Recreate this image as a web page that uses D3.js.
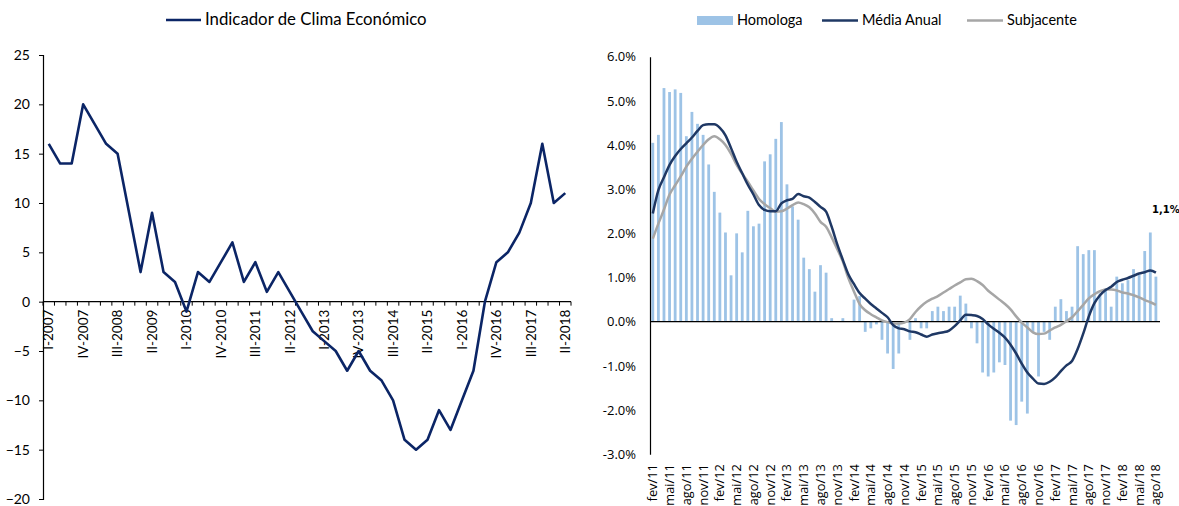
<!DOCTYPE html>
<html><head><meta charset="utf-8">
<script src="https://cdn.jsdelivr.net/npm/d3@7"></script>
<style>body{margin:0;background:#fff}svg{display:block}</style>
</head><body>
<svg id="c" width="1179" height="506"></svg>
<script>
// ---------- LEFT CHART DATA ----------
const quarters = [
 "I-2007","II-2007","III-2007","IV-2007","I-2008","II-2008","III-2008","IV-2008",
 "I-2009","II-2009","III-2009","IV-2009","I-2010","II-2010","III-2010","IV-2010",
 "I-2011","II-2011","III-2011","IV-2011","I-2012","II-2012","III-2012","IV-2012",
 "I-2013","II-2013","III-2013","IV-2013","I-2014","II-2014","III-2014","IV-2014",
 "I-2015","II-2015","III-2015","IV-2015","I-2016","II-2016","III-2016","IV-2016",
 "I-2017","II-2017","III-2017","IV-2017","I-2018","II-2018"];
const climate = [16,14,14,20,18,16,15,9,3,9,3,2,-1,3,2,4,6,2,4,1,3,1,-1,-3,-4,-5,-7,-5,-7,-8,-10,-14,-15,-14,-11,-13,-10,-7,0,4,5,7,10,16,10,11];
const leftYTicks = [25,20,15,10,5,0,-5,-10,-15,-20];
const leftXLabels = ["I-2007","IV-2007","III-2008","II-2009","I-2010","IV-2010","III-2011","II-2012","I-2013","IV-2013","III-2014","II-2015","I-2016","IV-2016","III-2017","II-2018"];
const leftSeriesName = "Indicador de Clima Económico";

// ---------- RIGHT CHART DATA ----------
const months = [
 "fev/11","mar/11","abr/11","mai/11","jun/11","jul/11","ago/11","set/11","out/11","nov/11","dez/11",
 "jan/12","fev/12","mar/12","abr/12","mai/12","jun/12","jul/12","ago/12","set/12","out/12","nov/12","dez/12",
 "jan/13","fev/13","mar/13","abr/13","mai/13","jun/13","jul/13","ago/13","set/13","out/13","nov/13","dez/13",
 "jan/14","fev/14","mar/14","abr/14","mai/14","jun/14","jul/14","ago/14","set/14","out/14","nov/14","dez/14",
 "jan/15","fev/15","mar/15","abr/15","mai/15","jun/15","jul/15","ago/15","set/15","out/15","nov/15","dez/15",
 "jan/16","fev/16","mar/16","abr/16","mai/16","jun/16","jul/16","ago/16","set/16","out/16","nov/16","dez/16",
 "jan/17","fev/17","mar/17","abr/17","mai/17","jun/17","jul/17","ago/17","set/17","out/17","nov/17","dez/17",
 "jan/18","fev/18","mar/18","abr/18","mai/18","jun/18","jul/18","ago/18"];
const homologa = [4.05,4.23,5.29,5.20,5.26,5.18,4.20,4.75,4.48,4.23,
 3.56,2.94,2.47,2.02,1.05,2.00,1.57,2.51,2.16,2.22,
 3.63,3.79,4.14,4.52,3.11,2.61,2.31,1.45,1.19,0.68,
 1.28,1.11,0.08,0.00,0.08,0.00,0.50,0.58,-0.23,-0.15,
 -0.06,-0.41,-0.72,-1.07,-0.72,0.00,-0.41,0.08,-0.15,-0.15,
 0.24,0.34,0.24,0.34,0.34,0.59,0.41,-0.15,-0.49,-1.15,
 -1.24,-1.15,-0.92,-0.98,-2.24,-2.34,-1.81,-2.08,-0.23,-1.24,
 -0.23,-0.41,0.34,0.51,0.24,0.34,1.71,1.53,1.62,1.62,
 0.64,0.75,0.34,1.02,0.87,0.94,1.19,1.06,1.60,2.02,
 1.02];
const mediaAnual = [2.45,2.98,3.27,3.55,3.75,3.91,4.04,4.17,4.32,4.45,
 4.47,4.47,4.39,4.22,3.93,3.62,3.36,3.10,2.88,2.64,
 2.53,2.50,2.50,2.68,2.75,2.78,2.89,2.84,2.81,2.71,
 2.60,2.49,2.15,1.75,1.40,1.07,0.85,0.65,0.52,0.40,
 0.30,0.20,0.10,-0.08,-0.15,-0.17,-0.22,-0.24,-0.29,-0.34,
 -0.29,-0.26,-0.24,-0.20,-0.10,0.03,0.16,0.15,0.13,0.06,
 -0.06,-0.16,-0.25,-0.36,-0.52,-0.72,-0.95,-1.15,-1.29,-1.40,
 -1.41,-1.36,-1.26,-1.12,-0.99,-0.89,-0.62,-0.27,0.12,0.42,
 0.60,0.72,0.79,0.90,0.95,0.99,1.04,1.09,1.12,1.16,
 1.11];
const subjacente = [1.88,2.22,2.54,2.88,3.09,3.29,3.51,3.69,3.85,4.00,
 4.13,4.20,4.13,4.00,3.80,3.55,3.35,3.17,2.97,2.78,
 2.66,2.57,2.49,2.50,2.56,2.64,2.70,2.66,2.59,2.45,
 2.26,2.15,1.91,1.64,1.36,0.98,0.68,0.40,0.26,0.17,
 0.10,0.03,-0.01,-0.04,-0.04,-0.02,0.06,0.22,0.35,0.45,
 0.52,0.58,0.66,0.74,0.82,0.89,0.96,0.97,0.92,0.83,
 0.70,0.60,0.50,0.40,0.28,0.12,-0.02,-0.13,-0.24,-0.28,
 -0.27,-0.20,-0.13,-0.07,0.01,0.10,0.24,0.38,0.53,0.62,
 0.69,0.73,0.73,0.71,0.66,0.64,0.60,0.55,0.49,0.44,
 0.38];
const rightYTicks = [6,5,4,3,2,1,0,-1,-2,-3];
const rightXLabels = months.filter((m,i)=> i%3===0);
const legendNames = ["Homologa","Média Anual","Subjacente"];
const lastValueLabel = "1,1%";

// ---------- STYLE ----------
const navyL = "#0b2566", navyR = "#1f3864", grey = "#a6a6a6", barBlue = "#9dc3e6";
const svg = d3.select("#c");

// ================= LEFT =================
const xL = d3.scaleBand().domain(quarters).range([43, 571]).padding(0);
const yL = d3.scaleLinear().domain([-20, 25]).range([499, 55]);
const gL = svg.append("g");

const yAxisL = d3.axisLeft(yL).tickValues(leftYTicks).tickSize(4).tickPadding(9).tickFormat(d3.format("d"));
const gy = gL.append("g").attr("transform","translate(43,0)").call(yAxisL);
gy.select(".domain").attr("stroke","#000").attr("stroke-width",1.2);
gy.selectAll(".tick line").attr("stroke","#000");
gy.selectAll("text").attr("font-family","Lato, sans-serif").attr("font-size",14).attr("fill","#000");

const y0 = yL(0);
gL.append("line").attr("x1",43).attr("x2",571).attr("y1",y0).attr("y2",y0).attr("stroke","#000").attr("stroke-width",1.2);
gL.selectAll(".xtick").data(quarters.concat(["end"])).join("line")
  .attr("x1",(d,i)=> xL.range()[0] + i*xL.step()).attr("x2",(d,i)=> xL.range()[0] + i*xL.step())
  .attr("y1",y0).attr("y2",y0+4).attr("stroke","#000").attr("stroke-width",1);
gL.selectAll(".xlab").data(leftXLabels).join("text")
  .attr("transform", d=> `translate(${xL(d)+xL.bandwidth()/2},${y0+8}) rotate(-90)`)
  .attr("text-anchor","end").attr("dy","0.35em")
  .attr("font-family","Lato, sans-serif").attr("font-size",13.5).attr("fill","#000")
  .text(d=>d);

const lineL = d3.line().x((d,i)=> xL(quarters[i])+xL.bandwidth()/2).y(d=> yL(d));
gL.append("path").datum(climate).attr("d",lineL).attr("fill","none")
  .attr("stroke",navyL).attr("stroke-width",2.6).attr("stroke-linejoin","round");

gL.append("line").attr("x1",166).attr("x2",201).attr("y1",20).attr("y2",20).attr("stroke",navyL).attr("stroke-width",2.6);
gL.append("text").attr("x",205).attr("y",25).attr("font-family","Lato, sans-serif").attr("font-size",16.8).attr("fill","#000").text(leftSeriesName);

// ================= RIGHT =================
const xR = d3.scaleBand().domain(months).range([650, 1158.7]).padding(0);
const yR = d3.scaleLinear().domain([-3, 6]).range([454.2, 56.7]);
const gR = svg.append("g");

const bw = 2.8;
gR.selectAll(".bar").data(homologa).join("rect")
  .attr("x",(d,i)=> xR(months[i]) + xR.bandwidth()/2 - bw/2)
  .attr("width", bw)
  .attr("y", d=> yR(Math.max(0,d)))
  .attr("height", d=> Math.abs(yR(d)-yR(0)))
  .attr("fill", barBlue);

const yAxisR = d3.axisLeft(yR).tickValues(rightYTicks).tickSize(0).tickPadding(14).tickFormat(d=> d.toFixed(1)+"%");
const gyR = gR.append("g").attr("transform","translate(650,0)").call(yAxisR);
gyR.select(".domain").attr("stroke","#000").attr("stroke-width",1.2);
gyR.selectAll("text").attr("font-family","'Open Sans', sans-serif").attr("font-size",13).attr("fill","#000");

gR.append("line").attr("x1",650).attr("x2",1160).attr("y1",yR(0)).attr("y2",yR(0)).attr("stroke","#000").attr("stroke-width",1.2);

gR.selectAll(".xlabR").data(rightXLabels).join("text")
  .attr("transform", d=> `translate(${xR(d)+xR.bandwidth()/2},${yR(-3)+10}) rotate(-90)`)
  .attr("text-anchor","end").attr("dy","0.35em")
  .attr("font-family","'Open Sans', sans-serif").attr("font-size",12.8).attr("fill","#000")
  .text(d=>d);

const lineR = d3.line().x((d,i)=> xR(months[i])+xR.bandwidth()/2).y(d=> yR(d)).curve(d3.curveMonotoneX);
gR.append("path").datum(subjacente).attr("d",lineR).attr("fill","none").attr("stroke",grey).attr("stroke-width",2.5);
gR.append("path").datum(mediaAnual).attr("d",lineR).attr("fill","none").attr("stroke",navyR).attr("stroke-width",2.5);

const lastI = mediaAnual.length-1;
gR.append("text").attr("x", xR(months[lastI]) - 1).attr("y", 213)
  .attr("font-family","'DejaVu Sans', sans-serif").attr("font-weight","bold").attr("font-size",10).attr("fill","#000")
  .text(lastValueLabel);

const lg = gR.append("g").attr("font-family","Lato, sans-serif").attr("font-size",14.5).attr("fill","#000");
lg.append("rect").attr("x",697).attr("y",16).attr("width",36).attr("height",9).attr("fill",barBlue);
lg.append("text").attr("x",737).attr("y",25).text(legendNames[0]);
lg.append("line").attr("x1",822).attr("x2",858).attr("y1",20.5).attr("y2",20.5).attr("stroke",navyR).attr("stroke-width",2.5);
lg.append("text").attr("x",862).attr("y",25).text(legendNames[1]);
lg.append("line").attr("x1",967).attr("x2",1003).attr("y1",20.5).attr("y2",20.5).attr("stroke",grey).attr("stroke-width",2.5);
lg.append("text").attr("x",1007).attr("y",25).text(legendNames[2]);
</script>
</body></html>
